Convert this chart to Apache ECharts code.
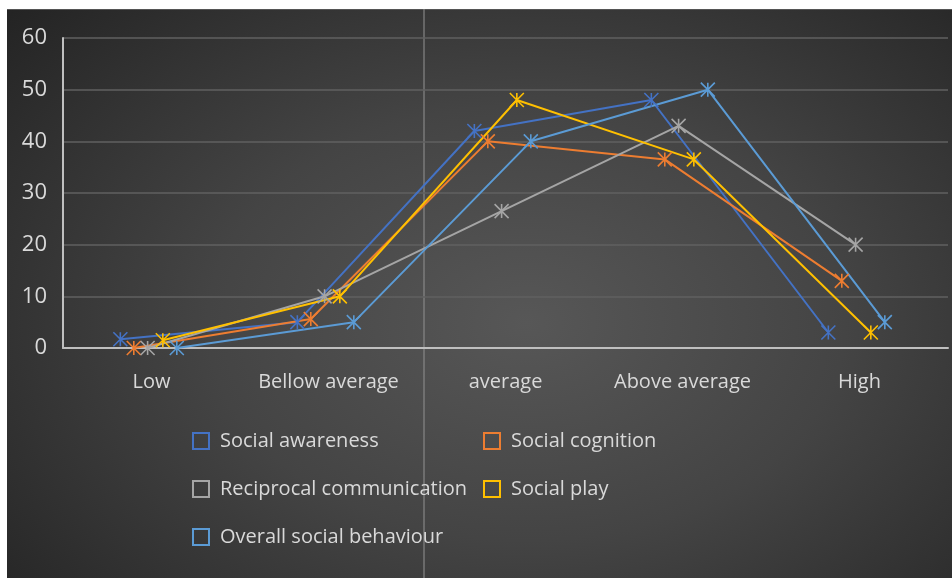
<!DOCTYPE html>
<html>
<head>
<meta charset="utf-8">
<script src="https://cdn.jsdelivr.net/npm/echarts@6/dist/echarts.min.js"></script>
<style>
  html, body { margin: 0; padding: 0; background: #ffffff; }
  #wrap { position: relative; width: 952px; height: 578px; overflow: hidden; }
  #bg { position: absolute; left: 7px; top: 9px; width: 945px; height: 569px;
        background: radial-gradient(ellipse 75% 85% at 55% 55%, #575757 0%, #444 45%, #222 100%);
        border-top: 1px solid #555; }
  #vline { position: absolute; left: 423px; top: 9px; width: 2px; height: 569px; background: rgba(140,140,140,0.55); }
  #chart { position: absolute; left: 0; top: 0; width: 952px; height: 578px; }
</style>
</head>
<body>
<div id="wrap">
  <div id="bg"></div>
  <div id="vline"></div>
  <div id="chart"></div>
</div>
<script>
// ---- data ----
const categories = ['Low', 'Bellow average', 'average', 'Above average', 'High'];
const seriesNames = ['Social awareness', 'Social cognition', 'Reciprocal communication', 'Social play', 'Overall social behaviour'];
const socialAwareness = [1.7, 5, 42, 48, 3];
const socialCognition = [0, 5.6, 40, 36.5, 13];
const reciprocalCommunication = [0, 10, 26.5, 43, 20];
const socialPlay = [1.5, 10, 48, 36.5, 3];
const overallSocialBehaviour = [0, 5, 40, 50, 5];
const yTicks = [0, 10, 20, 30, 40, 50, 60];

// ---- styling / layout ----
const values = [socialAwareness, socialCognition, reciprocalCommunication, socialPlay, overallSocialBehaviour];
const colors = ['#4472C4', '#ED7D31', '#A5A5A5', '#FFC000', '#5B9BD5'];
const xOffsets = [-0.176, -0.10, -0.022, 0.064, 0.143]; // horizontal shift within each category
const starPath = 'path://M0,0L10,10M10,0L0,10M5,0L5,10';
const font = '"Open Sans", "DejaVu Sans", sans-serif';

const chart = echarts.init(document.getElementById('chart'), null, { renderer: 'canvas' });

const series = values.map((vals, s) => ({
  name: seriesNames[s],
  type: 'line',
  xAxisIndex: 1,
  yAxisIndex: 0,
  data: vals.map((v, i) => [i + 0.5 + xOffsets[s], v]),
  symbol: starPath,
  symbolSize: 14,
  showAllSymbol: true,
  lineStyle: { color: colors[s], width: 2 },
  itemStyle: { color: 'rgba(0,0,0,0)', borderColor: colors[s], borderWidth: 1.6 },
  emphasis: { disabled: true },
  animation: false
}));

const legendItem = (s) => ({
  name: seriesNames[s],
  icon: 'rect',
  itemStyle: { color: 'rgba(0,0,0,0)', borderColor: colors[s], borderWidth: 2 }
});

const legendCommon = {
  orient: 'vertical',
  top: 426,
  itemWidth: 16,
  itemHeight: 16,
  itemGap: 28,
  selectedMode: false,
  textStyle: { color: '#d9d9d9', fontSize: 20, fontFamily: font, lineHeight: 16, padding: [0, 0, 0, 6] }
};

chart.setOption({
  backgroundColor: 'transparent',
  animation: false,
  grid: { left: 63, right: 4, top: 38, bottom: 230, containLabel: false },
  xAxis: [
    {
      type: 'category',
      data: categories,
      boundaryGap: true,
      axisLine: { show: true, lineStyle: { color: '#bfbfbf', width: 2 } },
      axisTick: { show: false },
      axisLabel: { interval: 0, color: '#d9d9d9', fontSize: 20, fontFamily: font, margin: 24 },
      splitLine: { show: false }
    },
    {
      type: 'value',
      min: 0,
      max: categories.length,
      show: false,
      splitLine: { show: false }
    }
  ],
  yAxis: {
    type: 'value',
    min: yTicks[0],
    max: yTicks[yTicks.length - 1],
    interval: 10,
    axisLine: { show: true, lineStyle: { color: '#bfbfbf', width: 2 } },
    axisTick: { show: false },
    axisLabel: { color: '#d9d9d9', fontSize: 22, fontFamily: font, margin: 16, padding: [4, 0, 0, 0] },
    splitLine: { show: true, lineStyle: { color: '#606060', width: 1.5 } }
  },
  legend: [
    Object.assign({}, legendCommon, { left: 187, data: [legendItem(0), legendItem(2), legendItem(4)] }),
    Object.assign({}, legendCommon, { left: 478, data: [legendItem(1), legendItem(3)] })
  ],
  series: series
});
</script>
</body>
</html>
